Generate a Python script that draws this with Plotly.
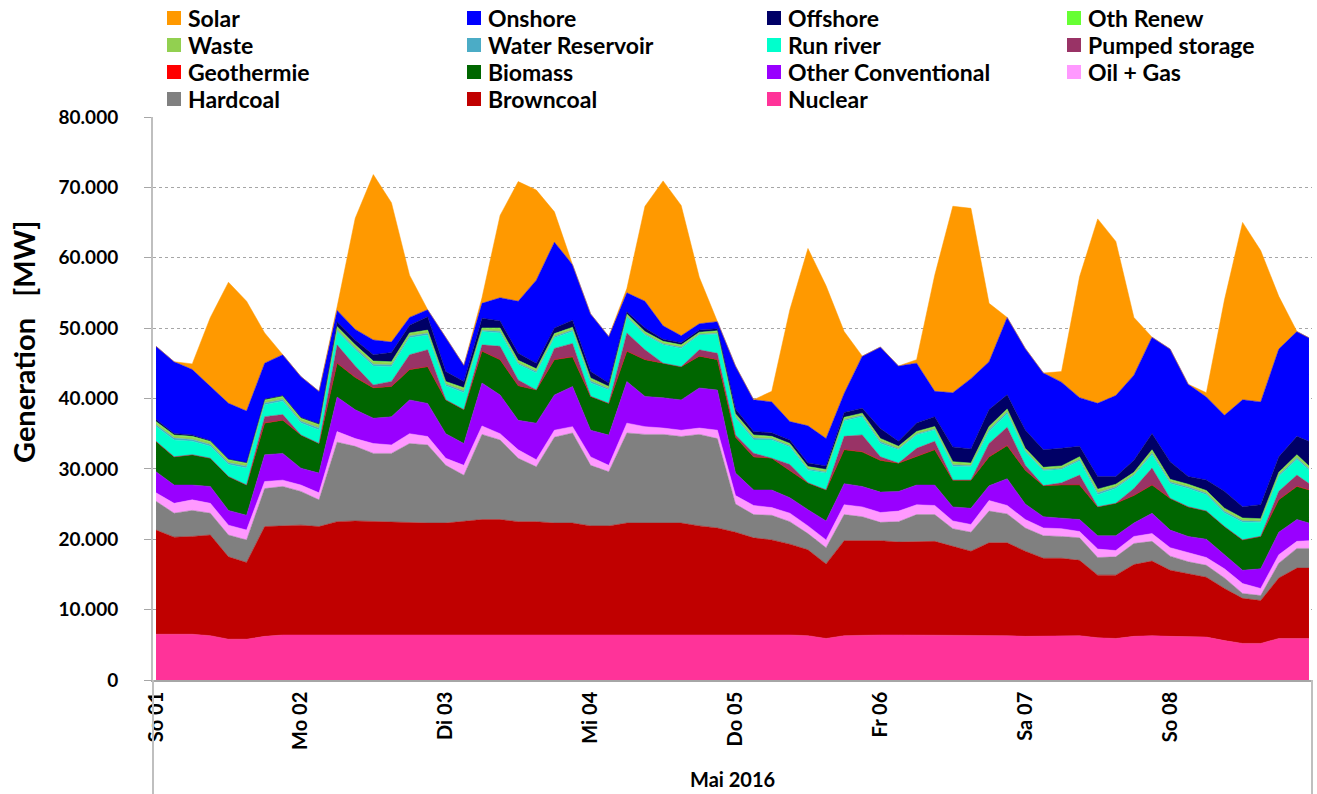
import plotly.graph_objects as go

# sample hours from So 01 00:00 (3-hourly) up to the last hour of So 08
hours = list(range(0, 190, 3)) + [191]
day_ticks = [0, 24, 48, 72, 96, 120, 144, 168]
day_labels = ["So 01", "Mo 02", "Di 03", "Mi 04", "Do 05", "Fr 06", "Sa 07", "So 08"]
y_ticks = [0, 10000, 20000, 30000, 40000, 50000, 60000, 70000, 80000]

# values in GW (thousand MW)
nuclear = [6.5, 6.5, 6.5, 6.3, 5.8, 5.8, 6.2, 6.4,
           6.4, 6.4, 6.5, 6.5, 6.5, 6.5, 6.5, 6.5,
           6.5, 6.5, 6.5, 6.5, 6.5, 6.5, 6.4, 6.4,
           6.5, 6.5, 6.5, 6.5, 6.4, 6.4, 6.4, 6.4,
           6.4, 6.4, 6.4, 6.4, 6.3, 5.9, 6.3, 6.4,
           6.4, 6.4, 6.4, 6.3, 6.3, 6.3, 6.3, 6.3,
           6.2, 6.2, 6.3, 6.3, 6.0, 5.9, 6.2, 6.3,
           6.2, 6.1, 6.1, 5.6, 5.2, 5.2, 5.9, 5.9, 5.9]
browncoal = [14.8, 13.8, 13.9, 14.3, 11.7, 10.9, 15.6, 15.5,
             15.6, 15.4, 16.0, 16.1, 16.0, 15.9, 15.8, 15.8,
             15.8, 16.0, 16.3, 16.3, 16.0, 16.0, 15.9, 15.9,
             15.4, 15.4, 15.8, 15.8, 15.9, 15.9, 15.5, 15.2,
             14.6, 13.8, 13.5, 12.9, 12.2, 10.6, 13.5, 13.4,
             13.4, 13.2, 13.3, 13.4, 12.7, 12.0, 13.2, 13.2,
             12.1, 11.1, 11.0, 10.7, 8.9, 9.0, 10.2, 10.6,
             9.4, 9.0, 8.5, 7.4, 6.4, 6.1, 8.6, 10.0, 10.0]
hardcoal = [4.1, 3.4, 3.7, 3.1, 3.1, 3.2, 5.4, 5.6,
            4.8, 3.8, 11.3, 10.6, 9.7, 9.8, 11.3, 11.1,
            8.2, 6.6, 12.1, 11.3, 9.0, 7.8, 12.2, 12.8,
            8.6, 7.7, 12.8, 12.6, 12.6, 12.3, 13.0, 12.7,
            4.0, 3.3, 3.5, 3.2, 2.3, 2.3, 3.7, 3.4,
            2.6, 2.9, 3.8, 3.8, 2.5, 2.7, 4.5, 4.1,
            3.3, 3.2, 3.1, 3.2, 2.5, 2.6, 3.0, 2.8,
            2.0, 1.7, 1.7, 1.5, 0.7, 0.7, 2.1, 2.8, 2.8]
oil_gas = [1.2, 1.4, 1.5, 1.4, 1.4, 1.4, 1.0, 0.9,
           0.9, 1.0, 1.5, 1.1, 1.4, 1.2, 1.4, 1.2,
           1.0, 1.4, 1.2, 0.9, 1.2, 1.0, 1.0, 0.9,
           1.2, 0.9, 1.4, 1.1, 0.9, 0.9, 0.9, 1.2,
           1.2, 1.3, 1.1, 1.2, 1.1, 1.1, 1.4, 1.4,
           1.4, 1.5, 1.4, 1.3, 1.1, 1.1, 1.5, 1.2,
           1.2, 1.1, 1.1, 0.9, 1.2, 0.9, 1.0, 1.1,
           1.2, 1.3, 1.1, 1.3, 1.4, 1.0, 1.2, 1.0, 1.1]
other_conv = [3.0, 2.6, 2.1, 2.4, 2.1, 2.1, 3.8, 3.8,
              2.4, 2.8, 4.9, 4.1, 3.6, 4.0, 4.8, 4.7,
              3.5, 3.1, 6.1, 5.5, 4.2, 5.2, 5.0, 5.7,
              3.8, 4.3, 5.9, 4.3, 4.3, 4.3, 5.7, 5.7,
              3.2, 2.2, 2.5, 2.2, 2.3, 2.7, 3.0, 2.9,
              2.9, 2.8, 2.8, 2.9, 2.0, 2.3, 2.1, 3.8,
              2.2, 1.6, 1.5, 1.7, 1.9, 2.1, 1.9, 2.9,
              2.5, 2.3, 2.6, 2.0, 1.9, 2.8, 3.2, 3.1, 2.5]
biomass = [4.3, 4.0, 4.3, 4.0, 4.8, 4.3, 4.5, 4.7,
           4.7, 4.2, 4.8, 4.6, 4.3, 4.3, 4.3, 5.2,
           4.8, 4.8, 4.5, 5.0, 4.9, 4.7, 5.0, 4.2,
           4.8, 4.5, 4.3, 5.2, 4.9, 4.7, 4.5, 4.3,
           5.1, 4.7, 4.5, 3.9, 3.8, 4.4, 4.8, 4.9,
           4.5, 4.0, 4.0, 5.0, 3.8, 4.0, 4.1, 4.7,
           4.8, 4.4, 4.7, 4.9, 4.1, 4.6, 3.9, 4.0,
           4.5, 4.2, 4.0, 4.0, 4.3, 4.6, 4.6, 4.7, 4.7]
geothermie = [0.02, 0.02, 0.02, 0.02, 0.02, 0.02, 0.02, 0.02,
              0.02, 0.02, 0.02, 0.02, 0.02, 0.02, 0.02, 0.02,
              0.02, 0.02, 0.02, 0.02, 0.02, 0.02, 0.02, 0.02,
              0.02, 0.02, 0.02, 0.02, 0.02, 0.02, 0.02, 0.02,
              0.02, 0.02, 0.02, 0.02, 0.02, 0.02, 0.02, 0.02,
              0.02, 0.02, 0.02, 0.02, 0.02, 0.02, 0.02, 0.02,
              0.02, 0.02, 0.02, 0.02, 0.02, 0.02, 0.02, 0.02,
              0.02, 0.02, 0.02, 0.02, 0.02, 0.02, 0.02, 0.02, 0.02]
pumped = [0.0, 0.0, 0.0, 0.0, 0.0, 0.0, 0.9, 0.8,
          0.0, 0.0, 2.6, 1.6, 0.4, 0.7, 2.1, 2.4,
          0.0, 0.0, 0.9, 1.9, 0.8, 0.0, 1.6, 1.9,
          0.0, 0.0, 2.6, 1.4, 0.0, 0.0, 0.9, 0.9,
          0.3, 0.5, 0.0, 0.8, 0.0, 0.0, 1.9, 2.4,
          0.5, 0.0, 1.2, 1.2, 0.0, 0.0, 1.9, 2.6,
          0.7, 0.0, 0.3, 1.4, 0.0, 0.0, 1.0, 2.4,
          0.0, 0.0, 0.0, 0.0, 0.0, 0.0, 1.2, 1.6, 0.9]
run_river = [2.1, 2.4, 1.9, 1.7, 1.7, 2.4, 1.7, 1.9,
             1.7, 1.9, 1.9, 2.3, 2.7, 2.1, 2.4, 2.1,
             2.0, 2.4, 1.9, 1.9, 2.2, 2.4, 1.5, 1.7,
             1.9, 1.9, 2.2, 2.1, 2.6, 2.6, 2.1, 2.7,
             2.4, 1.9, 2.6, 2.5, 1.8, 2.4, 2.2, 2.6,
             1.9, 1.9, 1.9, 1.6, 1.9, 1.9, 1.7, 1.9,
             1.9, 2.1, 1.9, 2.0, 1.7, 2.1, 1.8, 1.9,
             2.1, 2.6, 2.3, 1.9, 2.5, 2.0, 2.1, 2.2, 1.9]
water_reservoir = [0.25, 0.25, 0.25, 0.25, 0.25, 0.25, 0.25, 0.25,
                   0.25, 0.30, 0.25, 0.25, 0.25, 0.25, 0.25, 0.25,
                   0.20, 0.25, 0.15, 0.25, 0.20, 0.20, 0.20, 0.20,
                   0.25, 0.15, 0.15, 0.15, 0.15, 0.15, 0.12, 0.15,
                   0.20, 0.25, 0.15, 0.15, 0.15, 0.15, 0.15, 0.15,
                   0.25, 0.15, 0.15, 0.15, 0.25, 0.15, 0.25, 0.25,
                   0.15, 0.15, 0.15, 0.20, 0.30, 0.20, 0.15, 0.25,
                   0.20, 0.20, 0.20, 0.25, 0.20, 0.15, 0.20, 0.25, 0.20]
waste = [0.35, 0.35, 0.35, 0.35, 0.35, 0.35, 0.35, 0.35,
         0.35, 0.40, 0.35, 0.35, 0.35, 0.35, 0.35, 0.35,
         0.30, 0.35, 0.27, 0.35, 0.30, 0.30, 0.30, 0.30,
         0.35, 0.27, 0.27, 0.27, 0.27, 0.27, 0.22, 0.27,
         0.30, 0.35, 0.27, 0.27, 0.27, 0.27, 0.27, 0.27,
         0.35, 0.27, 0.27, 0.27, 0.35, 0.27, 0.35, 0.35,
         0.27, 0.27, 0.27, 0.30, 0.40, 0.30, 0.27, 0.35,
         0.30, 0.30, 0.30, 0.35, 0.30, 0.27, 0.30, 0.35, 0.30]
oth_renew = [0.10, 0.10, 0.10, 0.10, 0.10, 0.10, 0.10, 0.10,
             0.10, 0.10, 0.10, 0.10, 0.10, 0.10, 0.10, 0.10,
             0.10, 0.10, 0.08, 0.10, 0.10, 0.10, 0.10, 0.10,
             0.10, 0.08, 0.08, 0.08, 0.08, 0.08, 0.06, 0.08,
             0.10, 0.10, 0.08, 0.08, 0.08, 0.08, 0.08, 0.08,
             0.10, 0.08, 0.08, 0.08, 0.10, 0.08, 0.10, 0.10,
             0.08, 0.08, 0.08, 0.10, 0.10, 0.10, 0.08, 0.10,
             0.10, 0.10, 0.10, 0.10, 0.10, 0.08, 0.10, 0.10, 0.10]
offshore = [0.3, 0.2, 0.2, 0.1, 0.1, 0.1, 0.1, 0.1,
            0.1, 0.1, 0.7, 0.7, 0.9, 1.3, 1.1, 1.9,
            1.4, 0.9, 1.4, 1.0, 1.0, 0.8, 0.8, 1.0,
            0.9, 0.5, 0.3, 0.5, 0.3, 0.3, 0.3, 0.3,
            0.7, 0.5, 0.5, 0.5, 0.5, 0.5, 0.7, 0.7,
            1.4, 0.7, 1.2, 1.4, 2.1, 2.0, 2.4, 2.0,
            2.6, 2.5, 2.5, 1.5, 1.8, 1.1, 1.7, 2.3,
            2.5, 1.1, 1.5, 2.4, 1.6, 2.0, 2.2, 2.6, 3.5]
onshore = [10.4, 10.2, 9.3, 7.7, 7.9, 7.3, 5.1, 5.8,
           5.8, 4.6, 1.6, 1.5, 2.1, 1.5, 1.1, 1.0,
           4.8, 2.3, 2.1, 3.3, 7.4, 11.8, 12.2, 7.9,
           8.2, 6.6, 2.7, 3.8, 1.9, 1.0, 0.9, 1.0,
           6.1, 4.5, 4.4, 2.6, 5.3, 3.9, 2.7, 7.4,
           11.6, 10.7, 8.5, 3.6, 7.7, 10.0, 6.8, 11.0,
           11.6, 10.9, 9.4, 6.9, 10.4, 11.5, 12.1, 13.7,
           16.0, 13.1, 11.8, 10.8, 15.2, 14.6, 15.3, 14.9, 14.7]
solar = [0.0, 0.0, 0.8, 9.8, 17.2, 15.6, 4.3, 0.0,
         0.0, 0.0, 0.5, 15.8, 23.5, 19.8, 6.0, 0.0,
         0.0, 0.0, 0.8, 11.7, 17.0, 12.8, 4.3, 0.0,
         0.0, 0.0, 0.6, 13.5, 20.6, 18.5, 6.6, 0.0,
         0.0, 0.0, 1.5, 15.9, 25.2, 21.7, 8.8, 0.0,
         0.0, 0.0, 0.5, 16.5, 26.5, 24.2, 8.3, 0.0,
         0.0, 0.0, 1.5, 17.2, 26.2, 21.9, 8.2, 0.0,
         0.0, 0.0, 0.6, 16.4, 25.2, 21.5, 7.5, 0.0, 0.0]

# bottom to top stacking order
series = [
    ("Nuclear", nuclear, "#FF3399"),
    ("Browncoal", browncoal, "#C00000"),
    ("Hardcoal", hardcoal, "#808080"),
    ("Oil + Gas", oil_gas, "#FF99FF"),
    ("Other Conventional", other_conv, "#9900FF"),
    ("Biomass", biomass, "#006600"),
    ("Geothermie", geothermie, "#FF0000"),
    ("Pumped storage", pumped, "#993366"),
    ("Run river", run_river, "#00FFCC"),
    ("Water Reservoir", water_reservoir, "#4BACC6"),
    ("Waste", waste, "#92D050"),
    ("Oth Renew", oth_renew, "#66FF33"),
    ("Offshore", offshore, "#000066"),
    ("Onshore", onshore, "#0000FF"),
    ("Solar", solar, "#FF9900"),
]

FONT = "Lato"
W, H = 1317, 794
ML, MR, MT, MB = 153, 5, 117, 114
PW, PH = W - ML - MR, H - MT - MB


def px_x(page_x):
    return (page_x - ML) / PW


def px_y(page_y):
    return (H - MB - page_y) / PH


fig = go.Figure()
for name, vals, col in series:
    fig.add_trace(go.Scatter(
        x=hours, y=[v * 1000 for v in vals], name=name, stackgroup="one",
        mode="lines", line=dict(width=0.5, color=col), fillcolor=col,
        showlegend=False, hovertemplate=name + ": %{y:,.0f} MW<extra></extra>"))

# legend: 4 columns, reverse stack order, square swatch + bold label
annotations = []
shapes = []
legend_items = list(reversed(series))
for i, (name, vals, col) in enumerate(legend_items):
    col_i, row_i = i % 4, i // 4
    x0 = 167 + 300 * col_i
    yc = 18 + 27 * row_i
    shapes.append(dict(type="rect", xref="paper", yref="paper",
                       x0=px_x(x0), x1=px_x(x0 + 14),
                       y0=px_y(yc + 7), y1=px_y(yc - 7),
                       fillcolor=col, line=dict(width=0)))
    annotations.append(dict(text=name, xref="paper", yref="paper",
                            x=px_x(x0 + 19), y=px_y(yc), xanchor="left", yanchor="middle",
                            showarrow=False,
                            font=dict(family=FONT, size=23, color="black", weight="bold")))

annotations.append(dict(text="Generation\u00a0\u00a0\u00a0[MW]", xref="paper", yref="paper",
                        x=px_x(23), y=px_y(342), xanchor="center", yanchor="middle",
                        textangle=-90, showarrow=False,
                        font=dict(family=FONT, size=29, color="black", weight="bold")))
annotations.append(dict(text="Mai 2016", xref="paper", yref="paper",
                        x=0.5, y=px_y(779), xanchor="center", yanchor="middle",
                        showarrow=False,
                        font=dict(family=FONT, size=20, color="black", weight="bold")))

shapes.append(dict(type="line", xref="paper", yref="paper", x0=0, x1=0,
                   y0=0, y1=px_y(800), line=dict(color="#BFBFBF", width=2)))
shapes.append(dict(type="line", xref="paper", yref="paper", x0=1, x1=1,
                   y0=0, y1=px_y(800), line=dict(color="#BFBFBF", width=2)))

fig.update_layout(
    width=W, height=H,
    margin=dict(l=ML, r=MR, t=MT, b=MB, autoexpand=False),
    paper_bgcolor="white", plot_bgcolor="white",
    separators=",.",
    font=dict(family=FONT, size=20, color="black"),
    showlegend=False,
    xaxis=dict(range=[-0.5, 191.5], tickmode="array", tickvals=day_ticks,
               ticktext=day_labels, tickangle=-90, showgrid=False,
               zeroline=False, showline=True, linecolor="#A6A6A6", linewidth=1.5,
               ticks="", ticklabelstandoff=2, automargin=False,
               tickfont=dict(family=FONT, size=20, color="black", weight="bold")),
    yaxis=dict(range=[0, 80000], tickmode="array", tickvals=y_ticks,
               tickformat=",d", showgrid=True, gridcolor="#A6A6A6",
               griddash="3px,3px", gridwidth=1, zeroline=False,
               showline=True, linecolor="#BFBFBF", linewidth=2,
               ticks="outside", ticklen=7, tickcolor="#A6A6A6", tickwidth=1,
               ticklabelstandoff=22, automargin=False,
               tickfont=dict(family=FONT, size=19, color="black", weight="bold")),
    annotations=annotations,
    shapes=shapes,
)

# remove the browser's default page margin so the figure sits at the window origin
fig.write_html("out.html", config={"displayModeBar": False},
               post_script="document.body.style.margin='0px';")
